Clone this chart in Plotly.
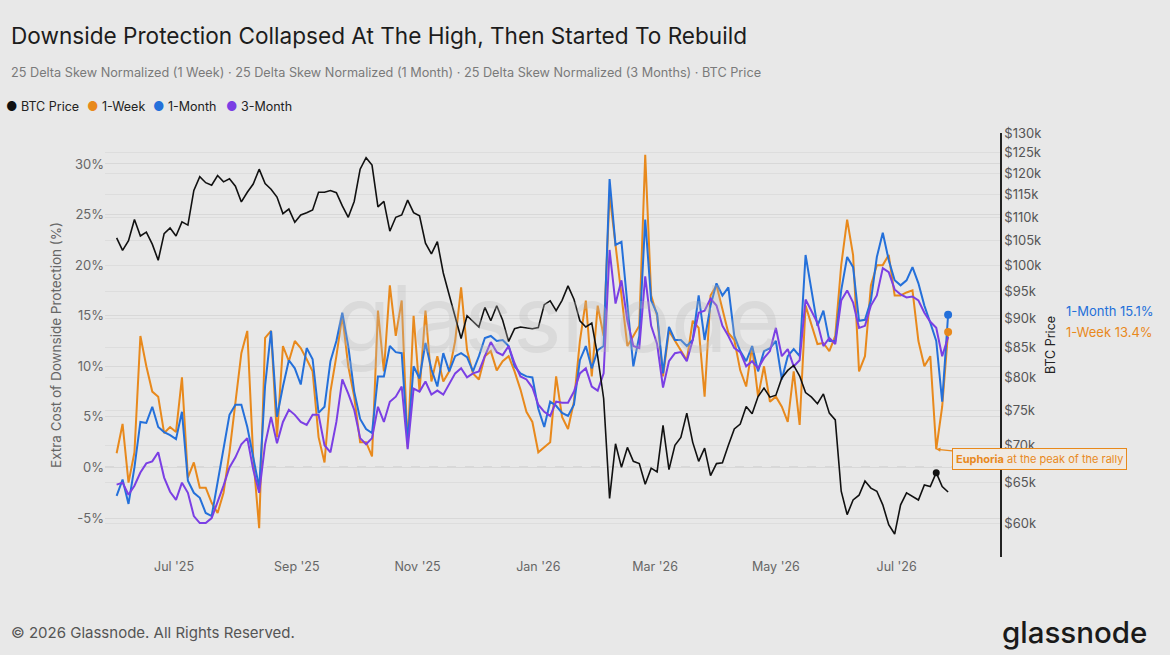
import plotly.graph_objects as go
import pandas as pd

# ---------------- data ----------------
dates = pd.date_range("2025-06-02", periods=141, freq="3D")

btc_price_k = [
    105.6, 103, 105, 109.5, 106, 106.8, 104.3, 101, 106.5, 107.7,
    106, 109, 108.3, 116, 119.2, 117.8, 117.2, 119.5, 118, 118.7,
    117, 113.4, 115.6, 117.5, 121, 117.6, 116.3, 114.5, 110.8, 111.8,
    108.9, 110.5, 111, 111.6, 115.6, 115.6, 116, 115.5, 112.5, 110,
    113.5, 121, 123.8, 122, 112.3, 113.5, 107, 110, 110.5, 113.8,
    111, 110.3, 104.5, 102.3, 104.8, 98.5, 94.3, 90.5, 86.5, 90.5,
    89.4, 88.5, 92, 89.6, 92.3, 89.7, 86, 88.2, 88.5, 88.3,
    88.2, 88.4, 92.5, 93.2, 91.4, 93.3, 96, 93.5, 89.6, 88.5,
    89.2, 83.5, 76.8, 63, 70.2, 67, 69.7, 67.8, 67.5, 64.8,
    66.9, 66.4, 72.8, 66.7, 70, 71.1, 74.6, 70.4, 67.8, 69.6,
    65.9, 67.5, 67.6, 70, 72.3, 73, 75.6, 74.5, 77.1, 78.4,
    77, 77.3, 80, 81.2, 82, 80.3, 77.7, 77, 76, 77.5,
    74.6, 73.6, 63.9, 61, 62.8, 63.4, 65.2, 64.3, 63.9, 62.2,
    59.8, 58.7, 62.2, 63.7, 63.3, 62.8, 64.7, 64.5, 66.3, 64.5, 63.8,
]

week_1 = [
    1.4, 4.3, -1.5, 1.5, 13, 10, 7.5, 7, 3.4, 4,
    3.5, 8.9, -1, 0.5, -2, -2, -3.5, -4.5, -2.5, 1.5,
    6.4, 11.3, 13.5, 1, -6, 12.8, 13.5, 3, 12, 10.5,
    12.5, 11.8, 10.7, 9.5, 3, 0.5,
    7.5, 11, 15, 10, 7, 2.5, 2.5, 1.1, 15.5, 9.5,
    18, 13, 16.5, 2, 15, 7.5, 15.5, 8.5, 11, 8.5,
    9.5, 12.5, 17.8, 11.6, 9.3, 8.7, 11, 11.5, 9.6, 10.5,
    11, 9.5, 7.7, 5.5, 4.5, 1.5,
    2, 2.5, 9, 5, 3.8, 6.5, 12.5, 16.5, 9, 16,
    13, 27, 22, 17, 12, 13, 14, 30.9, 17, 15,
    9, 13.5, 12.5, 11.5, 10.6, 14.5, 13.8, 7, 17, 18,
    15.5, 13.3, 12.6, 9.6, 8, 12,
    7, 10, 6.5, 7, 6, 4.5, 9.5, 4.2, 16, 14,
    12.2, 12.3, 11.5, 13, 20, 24.5, 21, 9.5, 11, 18,
    20, 20, 21, 17, 17, 17.3, 17.5, 12.5, 10, 11,
    1.8, 6, 13.4,
]

month_1 = [
    -2.8, -1.2, -3.6, 0, 4.5, 4.4, 6, 4, 3.5, 3.2,
    2.8, 5.5, -1.3, -2.5, -3, -4.5, -4.8, -1.5, 2, 5.2,
    6.2, 6.2, 4, 1, -2, 8.1, 13.5, 5, 8, 10.6,
    9.8, 8.2, 11.8, 10.7, 5.4, 6,
    10.5, 12.5, 15.3, 12, 7.5, 4.8, 3.8, 3.4, 9, 9,
    12, 11.4, 11.3, 2.5, 10, 8.8, 12.3, 9.7, 8, 11.3,
    9.5, 11, 11.3, 10.9, 9.5, 11, 12.8, 13, 12.5, 12.6,
    12, 10, 9.3, 9, 8.9, 5.8,
    4, 6.5, 6.1, 5.4, 5.1, 6.2, 10.6, 12, 9.8, 11.6,
    12, 28.5, 22, 22.3, 15.8, 10, 13, 24.5, 16.5, 15.2,
    9.3, 13.9, 12.6, 12.6, 12, 12.6, 17, 12.6, 16, 18.2,
    17, 17.8, 13, 11.5, 10.5, 12,
    9.5, 11.5, 11.8, 12.5, 8.7, 11, 11.7, 11, 21, 17.5,
    14, 15.5, 12.5, 12.5, 17.5, 20.8, 19.8, 14.5, 14.6, 16.5,
    20.8, 23.2, 20.5, 18.5, 18, 18.5, 19.8, 18.2, 16, 14.3,
    12.5, 6.5, 15.1,
]

month_3 = [
    -1.7, -1.5, -2.7, -1.8, -0.5, 0.4, 0.6, 1.5, -1, -2.4,
    -3.2, -1.5, -2.5, -4.8, -5.5, -5.5, -5, -3.5, -1.8, 0,
    1, 2.3, 2.9, -0.2, -2.5, 2.3, 5, 2.4, 4.5, 5.7,
    5.2, 4.5, 4.2, 5.2, 5.2, 2.2,
    1.5, 4.5, 8.7, 7.3, 5.7, 2.9, 2.3, 2.9, 6, 4.5,
    6.5, 7, 8, 1.8, 7.8, 7.5, 8.5, 7.2, 7.6, 7.2,
    8.3, 9.3, 9.8, 8.9, 9.3, 9.5, 11, 12.4, 11.4, 11.1,
    12, 10.3, 9, 8.7, 7.9, 6.2,
    5.5, 5.1, 6.5, 6.4, 6.4, 7.5, 9.3, 9.8, 8, 7.6,
    9.3, 21.5, 16.2, 18.5, 14.5, 12, 11.8, 18.9, 14, 12.2,
    7.9, 10.5, 11.3, 11.4, 10.5, 12.6, 15.3, 15.5, 16.7, 16,
    14, 13, 11.8, 11.4, 10, 10.5,
    9.8, 10.8, 11.5, 13.8, 11, 11.7, 10, 10.6, 16.6, 15.5,
    14.3, 12, 12.8, 12.2, 16.5, 17.5, 16.3, 13.8, 14, 16,
    17, 19.7, 19.3, 17.6, 17.1, 16.8, 16.9, 16.5, 15.3, 14.4,
    13.8, 11, 12.9,
]

pct_ticks = [-5, 0, 5, 10, 15, 20, 25, 30]
price_ticks_k = [60, 65, 70, 75, 80, 85, 90, 95, 100, 105, 110, 115, 120, 125, 130]
month_ticks = ["2025-07-01", "2025-09-01", "2025-11-01", "2026-01-01",
               "2026-03-01", "2026-05-01", "2026-07-01"]
month_labels = ["Jul '25", "Sep '25", "Nov '25", "Jan '26", "Mar '26", "May '26", "Jul '26"]
peak_idx = 138  # BTC local high / euphoria point

btc = [v * 1000 for v in btc_price_k]

# ---------------- style ----------------
C_BTC = "#111111"
C_W = "#E8891C"
C_M = "#2470DA"
C_Q = "#7B3FE4"
BG = "#E8E8E8"
FONT = "Inter"

W, H = 1170, 655
L, R, T, B = 105, 1000, 133, 557


def px(x):
    return (x - L) / (R - L)


def py(y):
    return (B - y) / (B - T)


fig = go.Figure()

fig.add_trace(go.Scatter(x=dates, y=week_1, mode="lines", name="1-Week",
                         line=dict(color=C_W, width=2), yaxis="y"))
fig.add_trace(go.Scatter(x=dates, y=month_1, mode="lines", name="1-Month",
                         line=dict(color=C_M, width=2), yaxis="y"))
fig.add_trace(go.Scatter(x=dates, y=month_3, mode="lines", name="3-Month",
                         line=dict(color=C_Q, width=2), yaxis="y"))
fig.add_trace(go.Scatter(x=dates, y=btc, mode="lines", name="BTC Price",
                         line=dict(color=C_BTC, width=1.6), yaxis="y2"))

# end / highlight markers
fig.add_trace(go.Scatter(x=[dates[-1]], y=[month_1[-1]], mode="markers",
                         marker=dict(color=C_M, size=8), yaxis="y"))
fig.add_trace(go.Scatter(x=[dates[-1]], y=[week_1[-1]], mode="markers",
                         marker=dict(color=C_W, size=8), yaxis="y"))
fig.add_trace(go.Scatter(x=[dates[peak_idx]], y=[btc[peak_idx]], mode="markers",
                         marker=dict(color=C_BTC, size=7), yaxis="y2"))

annotations = []

# title / subtitle
annotations.append(dict(text="Downside Protection Collapsed At The High, Then Started To Rebuild",
                        xref="paper", yref="paper", x=px(9), y=py(35), xanchor="left", yanchor="middle",
                        showarrow=False, font=dict(family=FONT, size=22.6, color="#1c1c1c")))
annotations.append(dict(text="25 Delta Skew Normalized (1 Week) · 25 Delta Skew Normalized (1 Month) · "
                             "25 Delta Skew Normalized (3 Months) · BTC Price",
                        xref="paper", yref="paper", x=px(9), y=py(72), xanchor="left", yanchor="middle",
                        showarrow=False, font=dict(family=FONT, size=12.7, color="#7a7a7a")))

# legend row
legend_items = [("BTC Price", C_BTC, 4), ("1-Week", C_W, 85), ("1-Month", C_M, 151), ("3-Month", C_Q, 224)]
for name, col, x0 in legend_items:
    annotations.append(dict(text=f"<span style='color:{col}'>●</span> {name}",
                            xref="paper", yref="paper", x=px(x0), y=py(107), xanchor="left",
                            yanchor="middle", showarrow=False,
                            font=dict(family=FONT, size=12.5, color="#222222")))

# watermark
annotations.append(dict(text="glassnode", xref="paper", yref="paper", x=px(557), y=py(318),
                        xanchor="center", yanchor="middle", showarrow=False,
                        font=dict(family=FONT, size=92, color="rgba(185,185,185,0.30)")))

# end labels
annotations.append(dict(text=f"1-Month {month_1[-1]:.1f}%", xref="paper", yref="paper",
                        x=px(1064), y=py(311), xanchor="left", yanchor="middle", showarrow=False,
                        font=dict(family=FONT, size=13, color=C_M)))
annotations.append(dict(text=f"1-Week {week_1[-1]:.1f}%", xref="paper", yref="paper",
                        x=px(1064), y=py(332), xanchor="left", yanchor="middle", showarrow=False,
                        font=dict(family=FONT, size=13, color=C_W)))

# euphoria callout
annotations.append(dict(text="<b>Euphoria</b> at the peak of the rally", x=dates[peak_idx],
                        y=week_1[peak_idx], xref="x", yref="y", ax=103, ay=10, axref="pixel",
                        showarrow=True, arrowhead=2, arrowsize=0.7, arrowwidth=1.2, arrowcolor=C_W,
                        font=dict(family=FONT, size=11, color=C_W), bgcolor="#F0EAE2",
                        bordercolor=C_W, borderwidth=1, borderpad=3))

# footer
annotations.append(dict(text="© 2026 Glassnode. All Rights Reserved.", xref="paper", yref="paper",
                        x=px(9), y=py(632), xanchor="left", yanchor="middle", showarrow=False,
                        font=dict(family=FONT, size=15, color="#555555")))
annotations.append(dict(text="glassnode", xref="paper", yref="paper", x=px(1149), y=py(632),
                        xanchor="right", yanchor="middle", showarrow=False,
                        font=dict(family=FONT, size=29.5, color="#1a1a1a", weight=500)))

shapes = [dict(type="line", xref="paper", yref="y", x0=0, x1=1, y0=0, y1=0,
               line=dict(color="#a6a6a6", width=1.2, dash="dash"), layer="below")]

fig.update_layout(
    width=W, height=H,
    margin=dict(l=L, r=W - R, t=T, b=H - B, pad=0),
    paper_bgcolor=BG, plot_bgcolor=BG,
    showlegend=False,
    font=dict(family=FONT, color="#666666"),
    annotations=annotations,
    shapes=shapes,
    xaxis=dict(
        type="date",
        range=["2025-05-27 03:00", "2026-08-22 05:00"],
        tickvals=month_ticks, ticktext=month_labels,
        showgrid=False, zeroline=False, showline=False, ticks="",
        tickfont=dict(family=FONT, size=12.5, color="#666666"),
    ),
    yaxis=dict(
        range=[-8.85, 33.06],
        tickvals=pct_ticks, ticktext=[f"{v}%" for v in pct_ticks],
        showgrid=True, gridcolor="#d8d8d8", gridwidth=1,
        zeroline=False, showline=False, ticks="",
        tickfont=dict(family=FONT, size=13, color="#666666"),
        title=dict(text="Extra Cost of Downside Protection (%)", standoff=10,
                   font=dict(family=FONT, size=13.5, color="#666666")),
    ),
    yaxis2=dict(
        overlaying="y", side="right", type="log",
        range=[4.74888, 5.11394],
        tickvals=[v * 1000 for v in price_ticks_k], ticktext=[f"${v}k" for v in price_ticks_k],
        showgrid=True, gridcolor="#dddddd", gridwidth=1,
        zeroline=False, showline=True, linecolor="#222222", linewidth=1.5, ticks="",
        tickfont=dict(family=FONT, size=13, color="#555555"),
        title=dict(text="BTC Price", standoff=6,
                   font=dict(family=FONT, size=12.5, color="#222222")),
    ),
)

fig.write_html(
    "out.html",
    config={"displayModeBar": False},
    post_script="document.body.style.margin='0';document.body.style.background='#E8E8E8';",
)
